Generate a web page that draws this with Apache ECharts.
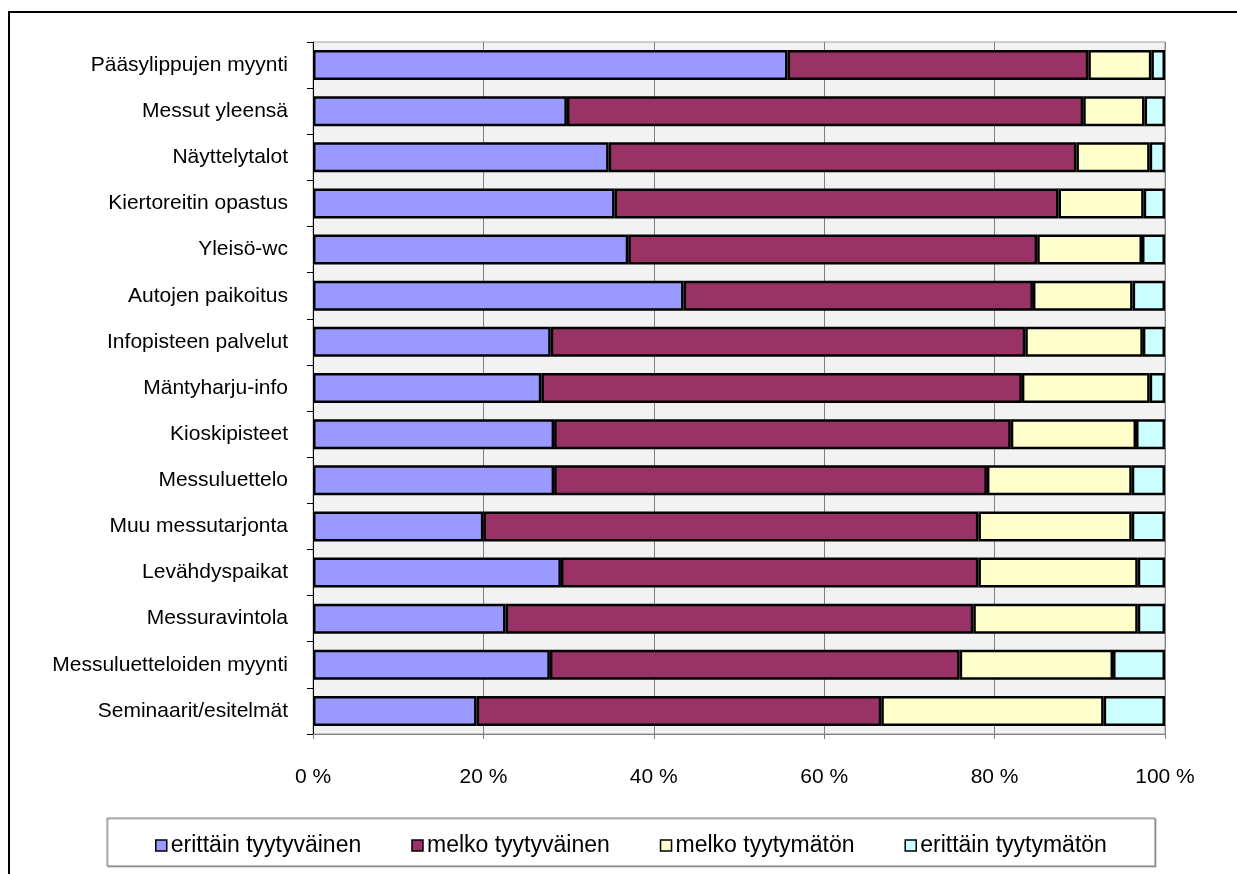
<!DOCTYPE html>
<html>
<head>
<meta charset="utf-8">
<script src="https://cdn.jsdelivr.net/npm/echarts@6/dist/echarts.min.js"></script>
<style>
  html, body { margin: 0; padding: 0; background: #fff; }
  #chart { width: 1237px; height: 874px; }
</style>
</head>
<body>
<div id="chart"></div>
<script>
  // kategoriat ylhäältä alas
  var categories = [
    'Pääsylippujen myynti', 'Messut yleensä', 'Näyttelytalot', 'Kiertoreitin opastus',
    'Yleisö-wc', 'Autojen paikoitus', 'Infopisteen palvelut', 'Mäntyharju-info',
    'Kioskipisteet', 'Messuluettelo', 'Muu messutarjonta', 'Levähdyspaikat',
    'Messuravintola', 'Messuluetteloiden myynti', 'Seminaarit/esitelmät'
  ];
  var seriesNames = ['erittäin tyytyväinen', 'melko tyytyväinen', 'melko tyytymätön', 'erittäin tyytymätön'];
  var erittainTyytyvainen = [55.7, 29.8, 34.7, 35.4, 37.0, 43.5, 27.9, 26.8, 28.3, 28.3, 20.0, 29.1, 22.6, 27.8, 19.2];
  var melkoTyytyvainen = [35.3, 60.6, 54.9, 52.1, 48.0, 41.0, 55.7, 56.4, 53.6, 50.8, 58.1, 49.0, 54.9, 48.1, 47.5];
  var melkoTyytymaton = [7.4, 7.2, 8.6, 10.0, 12.3, 11.7, 13.8, 15.0, 14.7, 17.0, 18.0, 18.7, 19.3, 18.0, 26.1];
  var erittainTyytymaton = [1.6, 2.4, 1.8, 2.5, 2.7, 3.8, 2.6, 1.8, 3.4, 3.9, 3.9, 3.2, 3.2, 6.1, 7.2];
  var colors = ['#9999ff', '#993366', '#ffffcc', '#ccffff'];

  var font = 'Liberation Sans, Arial, sans-serif';
  var myChart = echarts.init(document.getElementById('chart'));

  function bar(name, data, color) {
    return {
      name: name,
      type: 'bar',
      stack: 'total',
      barCategoryGap: '35%',
      data: data,
      itemStyle: { color: color, borderColor: '#000', borderWidth: 2.5 }
    };
  }

  var option = {
    animation: false,
    textStyle: { fontFamily: font },
    graphic: [
      {
        type: 'rect', z: 0,
        shape: { x: 9, y: 12, width: 1400, height: 1000 },
        style: { fill: 'none', stroke: '#000', lineWidth: 2 }
      },
      {
        type: 'rect', z: 0,
        shape: { x: 107, y: 818, width: 1048, height: 48 },
        style: { fill: '#fff', stroke: '#808080', lineWidth: 1, shadowColor: 'rgba(0,0,0,0.3)', shadowOffsetX: 1, shadowOffsetY: 1 }
      }
    ],
    grid: {
      left: 313, top: 42, right: 72, bottom: 140,
      show: true, backgroundColor: '#f2f2f2', borderColor: '#a0a0a0', borderWidth: 1
    },
    legend: {
      data: seriesNames,
      left: 150, top: 829,
      icon: 'rect',
      itemWidth: 11, itemHeight: 11, itemGap: 50,
      itemStyle: { borderWidth: 1.5, borderColor: '#000' },
      textStyle: { fontSize: 23, color: '#000', fontFamily: font, padding: [0, 0, 0, -1] }
    },
    xAxis: {
      type: 'value',
      min: 0, max: 100, interval: 20,
      axisLine: { show: true, lineStyle: { color: '#808080' } },
      axisTick: { show: true, length: 5, lineStyle: { color: '#808080' } },
      splitLine: { show: true, lineStyle: { color: '#808080', width: 1 } },
      axisLabel: { formatter: '{value} %', fontSize: 21, color: '#000', margin: 33, fontFamily: font }
    },
    yAxis: {
      type: 'category',
      data: categories,
      inverse: true,
      axisLine: { show: true, lineStyle: { color: '#000', width: 1 } },
      axisTick: { show: true, length: 6, lineStyle: { color: '#000' } },
      axisLabel: { fontSize: 21, color: '#000', margin: 25, fontFamily: font }
    },
    series: [
      bar(seriesNames[0], erittainTyytyvainen, colors[0]),
      bar(seriesNames[1], melkoTyytyvainen, colors[1]),
      bar(seriesNames[2], melkoTyytymaton, colors[2]),
      bar(seriesNames[3], erittainTyytymaton, colors[3])
    ]
  };

  myChart.setOption(option);
</script>
</body>
</html>
